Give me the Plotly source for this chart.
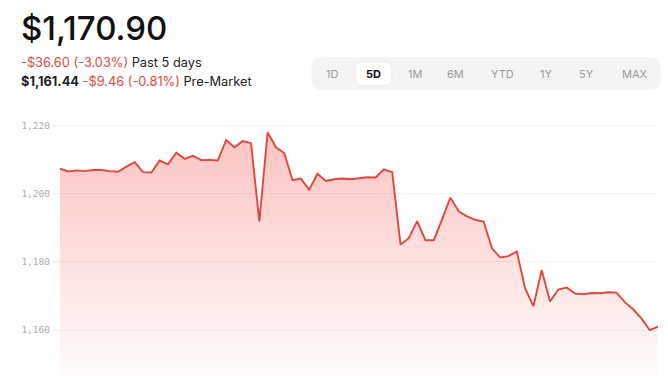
import plotly.graph_objects as go

# ---- data ----
prices = [
    1207.4, 1206.6, 1206.9, 1206.7, 1207.0, 1207.0, 1206.7, 1206.5, 1208.0, 1209.3,
    1206.4, 1206.3, 1209.8, 1208.7, 1212.1, 1210.3, 1211.2, 1209.9, 1210.0, 1209.8,
    1215.8, 1213.7, 1215.5, 1214.9, 1191.9, 1218.1, 1213.7, 1212.0, 1204.0, 1204.5,
    1201.2, 1205.9, 1203.8, 1204.3, 1204.5, 1204.3, 1204.6, 1204.9, 1204.8, 1207.2,
    1206.4, 1185.1, 1187.0, 1192.0, 1186.4, 1186.4, 1192.5, 1198.9, 1194.9, 1193.4,
    1192.4, 1191.9, 1184.1, 1181.3, 1181.7, 1183.1, 1172.2, 1167.0, 1177.6, 1168.4,
    1171.9, 1172.5, 1170.7, 1170.5, 1170.9, 1170.8, 1171.1, 1171.0, 1168.2, 1166.1,
    1163.4, 1160.0, 1161.0,
]
steps = list(range(len(prices)))
range_buttons = ["1D", "5D", "1M", "6M", "YTD", "1Y", "5Y", "MAX"]
selected_button = "5D"
price_text = "$1,170.90"
change_text = "-$36.60 (-3.03%)"
change_label = "Past 5 days"
pre_price = "$1,161.44"
pre_change = "-$9.46 (-0.81%)"
pre_label = "Pre-Market"

W, H = 668, 376
L, R, T, B = 52, 9.7, 118.5, 0
PW, PH = W - L - R, H - T - B
Y_MIN, Y_MAX = 1146.5, 1222.0

def px(x):
    return (x - L) / PW

def py(y):
    return (H - B - y) / PH

RED = "#E0483E"

fig = go.Figure()
fig.add_trace(go.Scatter(
    x=steps, y=prices, mode="lines",
    line=dict(color=RED, width=1.9),
    fill="tozeroy",
    fillgradient=dict(
        type="vertical", start=Y_MIN, stop=1218,
        colorscale=[[0, "rgba(245,80,70,0.02)"], [1, "rgba(245,80,70,0.34)"]],
    ),
    hoverinfo="skip", showlegend=False,
))

def rounded_rect(x0, y0, x1, y1, r):
    rx, ry = r / PW, r / PH
    a0, a1 = px(x0), px(x1)
    b0, b1 = py(y1), py(y0)
    return (f"M{a0+rx},{b0} L{a1-rx},{b0} Q{a1},{b0} {a1},{b0+ry} "
            f"L{a1},{b1-ry} Q{a1},{b1} {a1-rx},{b1} L{a0+rx},{b1} "
            f"Q{a0},{b1} {a0},{b1-ry} L{a0},{b0+ry} Q{a0},{b0} {a0+rx},{b0} Z")

shapes = [
    dict(type="path", xref="paper", yref="paper",
         path=rounded_rect(311.7, 56.7, 661, 89, 9),
         fillcolor="#F4F4F5", line=dict(width=0), layer="above"),
    dict(type="path", xref="paper", yref="paper",
         path=rounded_rect(355.5, 61.5, 392, 85, 7),
         fillcolor="#FFFFFF", line=dict(color="rgba(0,0,0,0.06)", width=1), layer="above"),
]

annotations = []
btn_x = [332.3, 373.7, 415, 455.5, 503, 546, 587, 635]
for lab, bx in zip(range_buttons, btn_x):
    sel = lab == selected_button
    annotations.append(dict(
        xref="paper", yref="paper", x=px(bx), y=py(73.3), text=lab, showarrow=False,
        xanchor="center", yanchor="middle",
        font=dict(family="Inter", size=11, color="#111111" if sel else "#9a9a9a",
                  weight=700 if sel else 400),
    ))

annotations.append(dict(
    xref="paper", yref="paper", x=px(18.5), y=py(27.5), text=price_text, showarrow=False,
    xanchor="left", yanchor="middle",
    font=dict(family="Inter", size=33, color="#111111", weight=500),
))
annotations.append(dict(
    xref="paper", yref="paper", x=px(18.5), y=py(61.5),
    text=f"<span style='color:{RED}'>{change_text}</span> {change_label}",
    showarrow=False, xanchor="left", yanchor="middle",
    font=dict(family="Inter", size=12.8, color="#222222"),
))
annotations.append(dict(
    xref="paper", yref="paper", x=px(18.5), y=py(80.5),
    text=f"<b>{pre_price}</b> <span style='color:{RED}'>{pre_change}</span> {pre_label}",
    showarrow=False, xanchor="left", yanchor="middle",
    font=dict(family="Inter", size=12.8, color="#222222"),
))

fig.update_layout(
    width=W, height=H, margin=dict(l=L, r=R, t=T, b=B, pad=0),
    paper_bgcolor="white", plot_bgcolor="white",
    xaxis=dict(range=[-(60 - L) / 8.31, len(prices) - 1], visible=False, fixedrange=True),
    yaxis=dict(range=[Y_MIN, Y_MAX], tick0=1160, dtick=20, tickformat=",",
               showgrid=True, gridcolor="rgba(0,0,0,0.06)", gridwidth=1,
               zeroline=False, showline=False, ticks="",
               ticklabelstandoff=1, fixedrange=True,
               tickfont=dict(family="DejaVu Sans Mono", size=9.5, color="#ababab")),
    shapes=shapes, annotations=annotations,
)

fig.write_html("out.html", config={"displayModeBar": False},
               post_script="document.body.style.margin='0';document.body.style.overflow='hidden';")
